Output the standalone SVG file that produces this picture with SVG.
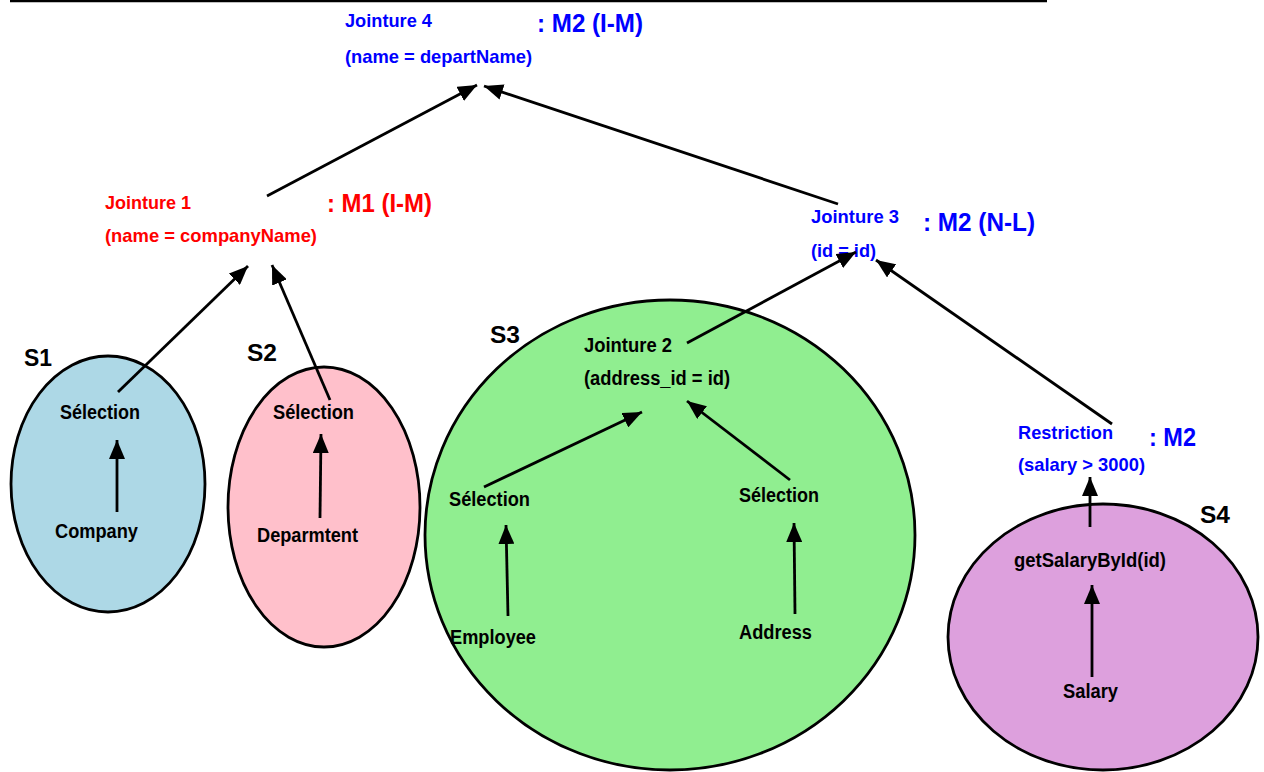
<svg xmlns="http://www.w3.org/2000/svg" width="1264" height="772" viewBox="0 0 1264 772">
  <style>
    text { font-family: "Liberation Sans", Arial, sans-serif; font-weight: bold; }
    .lbl { font-size: 20px; fill: #000; }
    .set { font-size: 24px; fill: #000; }
    .red { font-size: 19px; fill: #ff0000; }
    .blue { font-size: 19px; fill: #0000ff; }
    .redBig { font-size: 26px; fill: #ff0000; }
    .blueBig { font-size: 26px; fill: #0000ff; }
    .shape { stroke: #000; stroke-width: 2.8; }
    .edge { stroke: #000; stroke-width: 2.8; fill: none; marker-end: url(#arrow); }
  </style>
  <defs>
    <marker id="arrow" markerUnits="userSpaceOnUse" markerWidth="20" markerHeight="16" refX="19" refY="8" orient="auto">
      <path d="M0,0 L19,8 L0,16 z" fill="#000"/>
    </marker>
  </defs>

  <rect width="1264" height="772" fill="#fff"/>
  <!-- header rule -->
  <line x1="10" y1="1" x2="1047" y2="1" stroke="#000" stroke-width="2.5"/>

  <!-- S1 -->
  <g id="s1">
    <ellipse class="shape" cx="108" cy="484" rx="97" ry="128" fill="#add8e6"/>
    <text class="set" x="24" y="366" textLength="28" lengthAdjust="spacingAndGlyphs">S1</text>
    <text class="lbl" x="60" y="419" textLength="80" lengthAdjust="spacingAndGlyphs">Sélection</text>
    <text class="lbl" x="55" y="538" textLength="83" lengthAdjust="spacingAndGlyphs">Company</text>
  </g>

  <!-- S2 -->
  <g id="s2">
    <ellipse class="shape" cx="324" cy="507" rx="96" ry="140" fill="#ffc0cb"/>
    <text class="set" x="247" y="361" textLength="30" lengthAdjust="spacingAndGlyphs">S2</text>
    <text class="lbl" x="273" y="419" textLength="81" lengthAdjust="spacingAndGlyphs">Sélection</text>
    <text class="lbl" x="257" y="542" textLength="101" lengthAdjust="spacingAndGlyphs">Deparmtent</text>
  </g>

  <!-- S3 -->
  <g id="s3">
    <ellipse class="shape" cx="670" cy="535" rx="245" ry="235" fill="#90ee90"/>
    <text class="set" x="490" y="343" textLength="30" lengthAdjust="spacingAndGlyphs">S3</text>
    <text class="lbl" x="584" y="352" textLength="88" lengthAdjust="spacingAndGlyphs">Jointure 2</text>
    <text class="lbl" x="584" y="385" textLength="146" lengthAdjust="spacingAndGlyphs">(address_id = id)</text>
    <text class="lbl" x="449" y="506" textLength="81" lengthAdjust="spacingAndGlyphs">Sélection</text>
    <text class="lbl" x="739" y="502" textLength="80" lengthAdjust="spacingAndGlyphs">Sélection</text>
    <text class="lbl" x="450" y="644" textLength="86" lengthAdjust="spacingAndGlyphs">Employee</text>
    <text class="lbl" x="739" y="639" textLength="73" lengthAdjust="spacingAndGlyphs">Address</text>
  </g>

  <!-- S4 -->
  <g id="s4">
    <ellipse class="shape" cx="1103" cy="637" rx="155" ry="133" fill="#dda0dd"/>
    <text class="set" x="1200" y="523" textLength="30" lengthAdjust="spacingAndGlyphs">S4</text>
    <text class="lbl" x="1014" y="567" textLength="152" lengthAdjust="spacingAndGlyphs">getSalaryById(id)</text>
    <text class="lbl" x="1063" y="698" textLength="55" lengthAdjust="spacingAndGlyphs">Salary</text>
  </g>

  <!-- Jointure 1 -->
  <g id="jointure1">
    <text class="red" x="105" y="209" textLength="86" lengthAdjust="spacingAndGlyphs">Jointure 1</text>
    <text class="red" x="105" y="242" textLength="212" lengthAdjust="spacingAndGlyphs">(name = companyName)</text>
    <text class="redBig" x="327" y="212" textLength="105" lengthAdjust="spacingAndGlyphs">: M1 (I-M)</text>
  </g>

  <!-- Jointure 3 -->
  <g id="jointure3">
    <text class="blue" x="811" y="223" textLength="88" lengthAdjust="spacingAndGlyphs">Jointure 3</text>
    <text class="blue" x="811" y="257" textLength="65" lengthAdjust="spacingAndGlyphs">(id = id)</text>
    <text class="blueBig" x="923" y="231" textLength="112" lengthAdjust="spacingAndGlyphs">: M2 (N-L)</text>
  </g>

  <!-- Jointure 4 -->
  <g id="jointure4">
    <text class="blue" x="345" y="27" textLength="87" lengthAdjust="spacingAndGlyphs">Jointure 4</text>
    <text class="blue" x="345" y="63" textLength="187" lengthAdjust="spacingAndGlyphs">(name = departName)</text>
    <text class="blueBig" x="537" y="32" textLength="106" lengthAdjust="spacingAndGlyphs">: M2 (I-M)</text>
  </g>

  <!-- Restriction -->
  <g id="restriction">
    <text class="blue" x="1018" y="439" textLength="95" lengthAdjust="spacingAndGlyphs">Restriction</text>
    <text class="blue" x="1018" y="471" textLength="127" lengthAdjust="spacingAndGlyphs">(salary &gt; 3000)</text>
    <text class="blueBig" x="1149" y="446" textLength="47" lengthAdjust="spacingAndGlyphs">: M2</text>
  </g>

  <!-- connectors -->
  <g id="edges">
    <line class="edge" x1="118" y1="392" x2="248" y2="266"/>
    <line class="edge" x1="330" y1="400" x2="272" y2="265"/>
    <line class="edge" x1="267" y1="196" x2="477" y2="85"/>
    <line class="edge" x1="838" y1="204" x2="484" y2="86"/>
    <line class="edge" x1="687" y1="343" x2="856" y2="252"/>
    <line class="edge" x1="1112" y1="424" x2="876" y2="260"/>
    <line class="edge" x1="117" y1="512" x2="117" y2="440"/>
    <line class="edge" x1="320" y1="518" x2="321" y2="434"/>
    <line class="edge" x1="508" y1="616" x2="506" y2="525"/>
    <line class="edge" x1="795" y1="614" x2="794" y2="523"/>
    <line class="edge" x1="484" y1="487" x2="642" y2="412"/>
    <line class="edge" x1="790" y1="480" x2="687" y2="401"/>
    <line class="edge" x1="1090" y1="527" x2="1090" y2="477"/>
    <line class="edge" x1="1092" y1="677" x2="1092" y2="585"/>
  </g>
</svg>
